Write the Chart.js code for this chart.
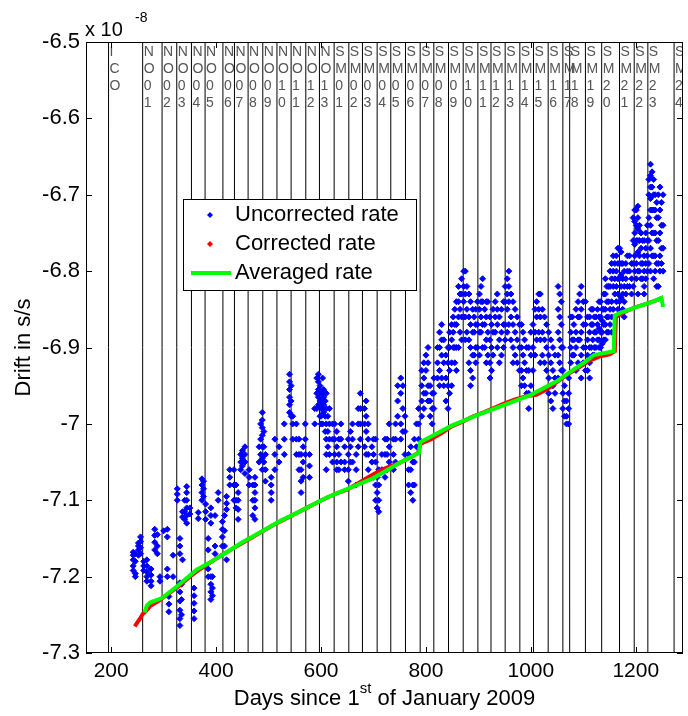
<!DOCTYPE html>
<html><head><meta charset="utf-8">
<script src="https://cdn.jsdelivr.net/npm/chart.js@4/dist/chart.umd.min.js"></script>
<style>html,body{margin:0;padding:0;background:#fff;}#wrap{width:688px;height:716px;position:relative;}</style>
</head><body><div id="wrap"><canvas id="c" width="688" height="716"></canvas></div>
<script>
// ---- data (values in units of 1e-8 s/s) ----
const xTicks = [200, 400, 600, 800, 1000, 1200];
const eventDays = [195,260,297,325,353,379,413,435,461,489,516,543,571,597,625,653,679,707,733,761,789,815,843,871,899,924,951,979,1005,1033,1061,1074,1104,1135,1169,1197,1223,1273];
const eventLabels = ['ICO','NO01','NO02','NO03','NO04','NO05','NO06','NO07','NO08','NO09','NO10','NO11','NO12','NO13',
  'SM01','SM02','SM03','SM04','SM05','SM06','SM07','SM08','SM09','SM10','SM11','SM12','SM13','SM14','SM15','SM16','SM17','SM18','SM19','SM20','SM21','SM22','SM23','SM24'];

// uncorrected rate: day of each measurement column, and the values read in that column
const uncColDays = [242,246,252,256,262,268,276,283,288,293,300,307,310,318,326,331,336,344,350,358,366,373,380,385,390,398,404,412,
  420,426,434,442,447,455,463,474,482,488,494,505,512,520,530,540,546,553,562,570,578,588,595,600,605,610,616,
  622,630,638,645,652,660,667,675,683,690,697,704,710,716,722,730,738,746,752,760,767,775,782,
  792,800,808,815,822,830,838,845,852,858,865,872,878,885,892,898,905,912,918,925,932,940,948,955,
  962,970,978,985,992,1000,1008,1015,1022,1030,1038,1046,1052,1058,1064,1068,1076,1082,1090,1096,1104,1112,1118,1124,1130,1136,1142,1148,1154,
  1160,1166,1172,1178,1184,1192,1198,1204,1210,1216,1222,1228,1234,1240,1246,1252,
  796,804,812,826,834,842,849,855,862,868,875,882,889,895,902,908,915,922,928,936,944,951,958,
  966,974,982,988,996,1004,1011,1018,1026,1034,1042,1055,1061,1072,1079,1086,1093,1100,1108,1115,1121,1127,1133,1139,1145,1151,1157,
  1163,1169,1175,1181,1188,1195,1201,1207,1213,1219,1225,1231,1237,1243,1249,
  592,598,603,608,613,626,634,656,671,686,700,707,726,742,756,771,778,786,485,491,543,558,566,450,470,416,438,393,334,340,376];
const uncColVals = [
  [-7.168,-7.172,-7.178,-7.186,-7.192],[-7.17,-7.18,-7.196,-7.2],[-7.156,-7.16,-7.165,-7.172],[-7.148,-7.154,-7.162,-7.17],
  [-7.18,-7.186,-7.192],[-7.178,-7.186,-7.194,-7.2,-7.206],[-7.19,-7.198,-7.206,-7.212],[-7.138,-7.146,-7.155,-7.165],
  [-7.145,-7.16,-7.17],[-7.2,-7.206],[-7.14],[-7.138,-7.148,-7.19,-7.2],[-7.226,-7.236,-7.246],[-7.172,-7.2],
  [-7.085,-7.092,-7.1],[-7.15,-7.16,-7.17,-7.208,-7.22,-7.232,-7.244,-7.255,-7.264],[-7.115,-7.122,-7.178],
  [-7.082,-7.09,-7.1,-7.11,-7.12,-7.13],[-7.118,-7.11],[-7.215,-7.225,-7.235,-7.245,-7.255],[-7.116,-7.124],
  [-7.072,-7.08,-7.09,-7.1],[-7.105,-7.115,-7.125],[-7.15,-7.165,-7.19,-7.2],[-7.11,-7.12,-7.13,-7.2,-7.21,-7.22,-7.23],
  [-7.16,-7.17,-7.12],[-7.09,-7.1],[-7.128,-7.138,-7.148,-7.16],
  [-7.095,-7.104,-7.112,-7.178],[-7.06,-7.07,-7.08],[-7.06,-7.08,-7.1],[-7.09,-7.1,-7.112,-7.125],[-7.04,-7.05,-7.06],
  [-7.03,-7.04,-7.05,-7.065],[-7.06,-7.07,-7.08],[-7.07,-7.08,-7.09,-7.1,-7.11,-7.125],[-7.03,-7.05],
  [-6.985,-6.995,-7.005,-7.015,-7.03,-7.045,-7.06],[-7.04,-7.06,-7.075],[-7.07,-7.08,-7.09,-7.1],[-7.02,-7.04,-7.06],
  [-7.03,-7.05],[-7.0,-7.02,-7.04],[-6.935,-6.945,-6.955,-6.965,-6.975,-6.985],[-6.99,-7.0,-7.02],[-7.0,-7.02,-7.04],
  [-7.04,-7.06,-7.075,-7.09],[-7.0,-7.02,-7.04],[-7.04,-7.055,-7.07],[-6.98,-7.0],[-6.935,-6.945,-6.955,-6.965,-6.975],
  [-6.96,-6.97,-6.98,-6.99,-7.0],[-6.955,-6.965,-6.975,-6.985],[-6.96,-6.98,-7.0,-7.02,-7.04,-7.06],[-6.98,-7.0,-7.02,-7.04],
  [-7.0,-7.02,-7.05],[-7.01,-7.03,-7.05,-7.06],[-7.0,-7.02,-7.05],[-7.03,-7.05,-7.06],[-7.02,-7.04,-7.06,-7.075],
  [-7.0,-7.02,-7.05],[-7.04,-7.06,-7.08],[-6.96,-6.98,-7.0,-7.02],[-6.98,-7.0,-7.03],[-7.0,-7.02,-7.04,-7.06],[-7.03,-7.05],
  [-7.02,-7.05,-7.08,-7.1],[-7.06,-7.08,-7.1,-7.115],[-7.04,-7.06],[-7.02,-7.04,-7.07],[-7.0,-7.03,-7.05],[-7.02,-7.04,-7.06],
  [-6.95,-6.97,-6.99],[-6.94,-6.96,-7.0,-7.02],[-6.99,-7.01,-7.04],[-7.04,-7.06,-7.08],[-7.05,-7.08,-7.1],[-7.0,-7.03],
  [-6.93,-6.95,-6.97,-6.99],[-6.91,-6.93,-6.96],[-6.95,-6.97,-6.99],[-6.94,-6.96,-6.98],[-6.9,-6.92,-6.94],
  [-6.87,-6.89,-6.91,-6.94],[-6.91,-6.94,-6.97],[-6.88,-6.9,-6.93,-6.96],[-6.86,-6.88,-6.9],[-6.84,-6.87,-6.9,-6.93],
  [-6.83,-6.85,-6.88],[-6.8,-6.82,-6.84,-6.86],[-6.82,-6.85,-6.88],[-6.84,-6.87,-6.9,-6.93,-6.95],[-6.86,-6.88,-6.91],
  [-6.84,-6.87,-6.9],[-6.82,-6.84,-6.86,-6.88],[-6.85,-6.87,-6.9],[-6.84,-6.88,-6.91],[-6.87,-6.9,-6.93],
  [-6.84,-6.86,-6.88],[-6.86,-6.89,-6.92],[-6.84,-6.87,-6.9],[-6.81,-6.83,-6.85,-6.88],
  [-6.83,-6.86,-6.89],[-6.85,-6.88,-6.91],[-6.87,-6.9,-6.93],[-6.88,-6.91,-6.94],[-6.9,-6.93,-6.96],[-6.88,-6.91,-6.95],
  [-6.85,-6.88,-6.91],[-6.83,-6.85,-6.88],[-6.85,-6.88,-6.91],[-6.87,-6.9,-6.93],[-6.89,-6.92,-6.95,-6.97],[-6.91,-6.94,-6.96],
  [-6.82,-6.85,-6.88,-6.91,-6.94],[-6.84,-6.87,-6.9,-6.93],[-6.95,-6.97,-6.99],[-6.97,-6.99,-7.0],[-6.86,-6.88,-6.9,-6.92],
  [-6.87,-6.89,-6.91],[-6.84,-6.86,-6.89,-6.92],[-6.82,-6.85,-6.88,-6.91,-6.94],[-6.84,-6.87,-6.9,-6.93],
  [-6.86,-6.88,-6.9,-6.92,-6.94],[-6.85,-6.87,-6.89,-6.91],[-6.86,-6.88,-6.9],[-6.84,-6.86,-6.875,-6.89,-6.9],
  [-6.85,-6.865,-6.88,-6.895],[-6.81,-6.83,-6.85,-6.87,-6.89],[-6.82,-6.84,-6.86,-6.88],[-6.79,-6.81,-6.84,-6.86,-6.88],
  [-6.79,-6.81,-6.83],[-6.77,-6.79,-6.81,-6.83,-6.85],[-6.775,-6.79,-6.805,-6.82,-6.835],[-6.8,-6.82,-6.84,-6.86],
  [-6.78,-6.8,-6.82],[-6.79,-6.81,-6.83],[-6.72,-6.735,-6.75,-6.765,-6.78,-6.8],[-6.715,-6.73,-6.745,-6.76,-6.775,-6.8,-6.83],
  [-6.75,-6.77,-6.79,-6.81],[-6.76,-6.78,-6.8,-6.82,-6.83],[-6.74,-6.76,-6.78,-6.8],
  [-6.66,-6.675,-6.69,-6.705,-6.72,-6.74,-6.77,-6.8],[-6.68,-6.7,-6.72,-6.75,-6.78,-6.81],[-6.71,-6.73,-6.76,-6.79,-6.82],
  [-6.69,-6.72,-6.75,-6.78,-6.8],[-6.7,-6.74,-6.77,-6.8],
  // second pass (intermediate columns)
  [-6.92,-6.94,-6.96,-6.98],[-6.9,-6.92,-6.95,-6.97],[-6.96,-6.98,-7.0],[-6.88,-6.9,-6.93,-6.95],[-6.89,-6.92,-6.95],
  [-6.9,-6.92,-6.95,-6.98],[-6.87,-6.89,-6.92,-6.95],[-6.85,-6.87,-6.9,-6.92],[-6.82,-6.84,-6.86,-6.9],[-6.81,-6.83,-6.86,-6.89],
  [-6.8,-6.83,-6.86,-6.89],[-6.83,-6.86,-6.89,-6.92],[-6.85,-6.88,-6.91,-6.94],[-6.85,-6.87,-6.9,-6.92],[-6.83,-6.85,-6.88,-6.91],
  [-6.81,-6.84,-6.87,-6.9],[-6.84,-6.86,-6.89,-6.92],[-6.86,-6.89,-6.92,-6.94],[-6.85,-6.88,-6.91],[-6.83,-6.85,-6.87,-6.9],
  [-6.85,-6.88,-6.91],[-6.82,-6.84,-6.87,-6.89],[-6.8,-6.82,-6.84,-6.87],
  [-6.84,-6.87,-6.9,-6.92],[-6.86,-6.89,-6.92],[-6.87,-6.9,-6.93,-6.95],[-6.89,-6.92,-6.95],[-6.9,-6.93,-6.96,-6.98],
  [-6.87,-6.9,-6.93],[-6.84,-6.86,-6.89],[-6.83,-6.86,-6.89,-6.92],[-6.86,-6.89,-6.92],[-6.88,-6.91,-6.94,-6.96],
  [-6.9,-6.93,-6.95,-6.98],[-6.83,-6.86,-6.89,-6.92],[-6.9,-6.93,-6.96,-6.98],[-6.94,-6.96,-6.98,-7.0],[-6.86,-6.89,-6.91],
  [-6.85,-6.88,-6.9,-6.93],[-6.83,-6.86,-6.89],[-6.84,-6.87,-6.9,-6.92],[-6.86,-6.89,-6.91,-6.93],[-6.85,-6.87,-6.9],
  [-6.86,-6.88,-6.9,-6.91],[-6.85,-6.87,-6.89],[-6.84,-6.86,-6.88,-6.9],[-6.83,-6.85,-6.87,-6.89],[-6.82,-6.84,-6.86,-6.88],
  [-6.8,-6.82,-6.85,-6.87],[-6.78,-6.8,-6.82,-6.85],
  [-6.78,-6.8,-6.82,-6.84],[-6.77,-6.79,-6.81,-6.84],[-6.79,-6.81,-6.83,-6.85],[-6.79,-6.81,-6.83],[-6.78,-6.8,-6.82],
  [-6.73,-6.76,-6.79,-6.82],[-6.72,-6.74,-6.76,-6.79,-6.81],[-6.74,-6.76,-6.78,-6.8],[-6.76,-6.79,-6.81],[-6.75,-6.77,-6.79,-6.81],
  [-6.68,-6.7,-6.73,-6.76,-6.79],[-6.67,-6.69,-6.72,-6.75,-6.78],[-6.7,-6.72,-6.75,-6.78,-6.8],[-6.7,-6.73,-6.76,-6.79,-6.82],
  [-6.71,-6.74,-6.77,-6.79],
  [-6.94,-6.96,-6.98],[-6.95,-6.97,-6.99],[-6.94,-6.96,-6.98,-7.0],[-6.97,-6.99,-7.01],[-6.99,-7.01,-7.03],[-7.0,-7.02,-7.04],
  [-7.02,-7.04,-7.06],[-7.01,-7.03,-7.05],[-6.98,-7.0,-7.03],[-6.97,-6.99,-7.01,-7.04],[-7.02,-7.04,-7.07],[-7.07,-7.09,-7.11],
  [-7.02,-7.04,-7.06],[-7.0,-7.02,-7.05],[-6.95,-6.98,-7.01],[-7.03,-7.06,-7.09],[-7.02,-7.05,-7.08],[-6.98,-7.0,-7.02],
  [-7.0,-7.02,-7.04],[-7.01,-7.03,-7.05],[-6.95,-6.97,-6.99],[-7.02,-7.04,-7.06],[-7.03,-7.05,-7.07],[-7.035,-7.045,-7.055],
  [-7.08,-7.1,-7.12],[-7.12,-7.14,-7.16],[-7.08,-7.1,-7.11],[-7.2,-7.215,-7.225],[-7.21,-7.23,-7.25],[-7.1,-7.115,-7.125],
  [-7.075,-7.085,-7.095]
];

const corDays = [245,250,255,260,265,275,290,310,330,350,370,390,410,430,450,470,490,510,530,550,570,590,610,630,650,670,690,710,730,750,770,785,790,810,830,850,870,890,910,930,950,970,990,1010,1030,1050,1070,1090,1110,1130,1150,1160,1162,1180,1200,1220,1240,1250];
const corVals = [-7.265,-7.26,-7.255,-7.249,-7.246,-7.238,-7.232,-7.222,-7.212,-7.2,-7.19,-7.181,-7.172,-7.164,-7.156,-7.148,-7.14,-7.132,-7.125,-7.118,-7.111,-7.104,-7.097,-7.091,-7.086,-7.078,-7.07,-7.062,-7.056,-7.051,-7.044,-7.038,-7.026,-7.02,-7.012,-7.003,-6.997,-6.99,-6.985,-6.979,-6.973,-6.968,-6.964,-6.962,-6.955,-6.945,-6.935,-6.927,-6.918,-6.912,-6.909,-6.905,-6.86,-6.853,-6.847,-6.843,-6.838,-6.835];

const avgDays = [264,268,274,297,325,363,387,420,450,482,520,558,609,647,700,750,787,789,850,900,950,1000,1050,1075,1101,1120,1158,1160,1169,1201,1233,1249,1252];
const avgVals = [-7.247,-7.238,-7.234,-7.228,-7.213,-7.191,-7.182,-7.168,-7.155,-7.143,-7.128,-7.115,-7.097,-7.086,-7.071,-7.051,-7.038,-7.024,-7.002,-6.988,-6.975,-6.962,-6.944,-6.932,-6.92,-6.91,-6.905,-6.858,-6.855,-6.847,-6.84,-6.835,-6.847];

// ---- build datasets ----
const uncPts = [];
uncColDays.forEach((d, i) => uncColVals[i].forEach(v => uncPts.push({x: d, y: v})));
const corPts = corDays.map((d, i) => ({x: d, y: corVals[i]}));
const avgPts = avgDays.map((d, i) => ({x: d, y: avgVals[i]}));

const FONT = "'Liberation Sans', Arial, sans-serif";

const decor = {
  id: 'decor',
  beforeDatasetsDraw(chart) {
    const {ctx, chartArea: a, scales: {x}} = chart;
    ctx.save();
    ctx.beginPath(); ctx.rect(a.left, a.top, a.right - a.left, a.bottom - a.top); ctx.clip();
    ctx.strokeStyle = '#000'; ctx.lineWidth = 1;
    eventDays.forEach(d => {
      const px = x.getPixelForValue(d);
      ctx.beginPath(); ctx.moveTo(px, a.top); ctx.lineTo(px, a.bottom); ctx.stroke();
    });
    ctx.restore();
  },
  afterDraw(chart) {
    const {ctx, chartArea: a, scales: {x, y}} = chart;
    ctx.save();
    ctx.beginPath(); ctx.rect(a.left, a.top, a.right - a.left, a.bottom - a.top); ctx.clip();
    ctx.fillStyle = '#555'; ctx.font = '14px ' + FONT; ctx.textAlign = 'left'; ctx.textBaseline = 'middle';
    eventDays.forEach((d, i) => {
      const px = x.getPixelForValue(d) + 1;
      eventLabels[i].split('').forEach((ch, k) => ctx.fillText(ch, px, 52 + k * 17));
    });
    ctx.restore();
    ctx.save();
    ctx.strokeStyle = '#000'; ctx.lineWidth = 1;
    ctx.strokeRect(a.left + 0.5, a.top + 0.5, a.right - a.left - 1, a.bottom - a.top - 1);
    ctx.beginPath();
    xTicks.forEach(v => {
      const px = Math.round(x.getPixelForValue(v)) + 0.5;
      ctx.moveTo(px, a.bottom); ctx.lineTo(px, a.bottom - 6);
      ctx.moveTo(px, a.top); ctx.lineTo(px, a.top + 6);
    });
    y.ticks.forEach(t => {
      const py = Math.round(y.getPixelForValue(t.value)) + 0.5;
      ctx.moveTo(a.left, py); ctx.lineTo(a.left + 6, py);
      ctx.moveTo(a.right, py); ctx.lineTo(a.right - 6, py);
    });
    ctx.stroke();
    ctx.fillStyle = '#000'; ctx.textAlign = 'left'; ctx.textBaseline = 'alphabetic';
    ctx.font = '20px ' + FONT; ctx.fillText('x 10', 85, 36);
    ctx.font = '14px ' + FONT; ctx.fillText('-8', 135, 22);
    const cx = (a.left + a.right) / 2;
    const p1 = 'Days since 1', sup = 'st', p2 = ' of January 2009';
    ctx.font = '22px ' + FONT; const w1 = ctx.measureText(p1).width, w2 = ctx.measureText(p2).width;
    ctx.font = '15px ' + FONT; const ws = ctx.measureText(sup).width;
    let sx = cx - (w1 + ws + w2) / 2;
    ctx.font = '22px ' + FONT; ctx.fillText(p1, sx, 705); sx += w1;
    ctx.font = '15px ' + FONT; ctx.fillText(sup, sx, 693); sx += ws;
    ctx.font = '22px ' + FONT; ctx.fillText(p2, sx, 705);
    // legend
    ctx.fillStyle = '#fff'; ctx.fillRect(183, 199, 233, 91);
    ctx.strokeStyle = '#000'; ctx.strokeRect(183.5, 199.5, 233, 91);
    ctx.fillStyle = '#00f'; ctx.beginPath(); ctx.moveTo(210, 212); ctx.lineTo(213, 215); ctx.lineTo(210, 218); ctx.lineTo(207, 215); ctx.closePath(); ctx.fill();
    ctx.fillStyle = '#f00'; ctx.beginPath(); ctx.moveTo(210, 241); ctx.lineTo(213, 244); ctx.lineTo(210, 247); ctx.lineTo(207, 244); ctx.closePath(); ctx.fill();
    ctx.strokeStyle = '#00ff00'; ctx.lineWidth = 4; ctx.beginPath(); ctx.moveTo(191, 273); ctx.lineTo(231, 273); ctx.stroke();
    ctx.fillStyle = '#000'; ctx.font = '22px ' + FONT; ctx.textBaseline = 'middle';
    ctx.fillText('Uncorrected rate', 235, 215);
    ctx.fillText('Corrected rate', 235, 244);
    ctx.fillText('Averaged rate', 235, 273);
    ctx.restore();
  }
};

new Chart(document.getElementById('c'), {
  type: 'scatter',
  data: {
    datasets: [
      {label: 'Averaged rate', data: avgPts, showLine: true, borderColor: '#00ff00', backgroundColor: '#00ff00', borderWidth: 4, pointRadius: 0, tension: 0},
      {label: 'Corrected rate', data: corPts, showLine: true, borderColor: '#ff0000', backgroundColor: '#ff0000', borderWidth: 4, pointRadius: 0, tension: 0},
      {label: 'Uncorrected rate', data: uncPts, pointStyle: 'rectRot', pointRadius: 3, borderWidth: 1, borderColor: '#0000ff', backgroundColor: '#0000ff'}
    ]
  },
  options: {
    responsive: false, animation: false, devicePixelRatio: 1,
    layout: {padding: {top: 42, right: 1, left: 0, bottom: 0}},
    plugins: {legend: {display: false}, tooltip: {enabled: false}},
    scales: {
      x: {
        type: 'linear', min: 152, max: 1290,
        grid: {display: false, drawTicks: false}, border: {display: false},
        afterBuildTicks: s => { s.ticks = xTicks.map(v => ({value: v})); },
        afterFit: s => { s.height = 63; },
        ticks: {color: '#000', font: {family: FONT, size: 21}, padding: 6, maxRotation: 0, autoSkip: false,
          callback: v => String(v)}
      },
      y: {
        type: 'linear', min: -7.3, max: -6.5,
        grid: {display: false, drawTicks: false}, border: {display: false},
        afterFit: s => { s.width = 86; },
        ticks: {stepSize: 0.1, color: '#000', font: {family: FONT, size: 22}, padding: 6,
          callback: v => String(+(+v).toFixed(1))},
        title: {display: true, text: 'Drift in s/s', color: '#000', font: {family: FONT, size: 22}, padding: {top: 11, bottom: 0}}
      }
    }
  },
  plugins: [decor]
});
</script>
</body></html>
